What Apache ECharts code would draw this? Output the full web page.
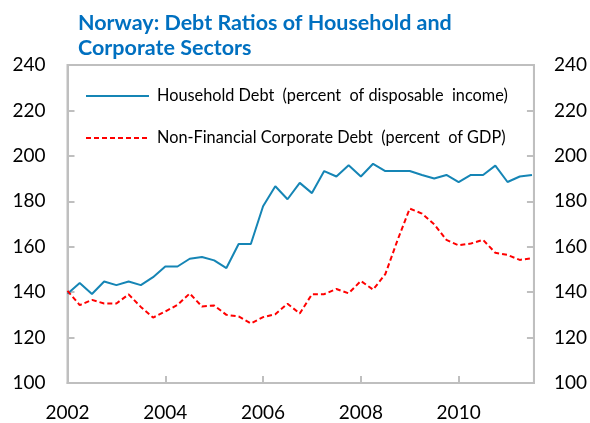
<!DOCTYPE html>
<html>
<head>
<meta charset="utf-8">
<script src="https://cdn.jsdelivr.net/npm/echarts@6/dist/echarts.min.js"></script>
<style>
  html, body { margin: 0; padding: 0; background: #fff; }
  #main { width: 590px; height: 423px; }
</style>
</head>
<body>
<div id="main"></div>
<script>
// 季度数据，2002Q1 起
let startYear = 2002;
let household = [
  139.3, 144.0, 139.2, 144.7, 143.1, 144.7, 143.1, 146.6, 151.3, 151.3,
  154.7, 155.5, 154.0, 150.6, 161.2, 161.2, 177.8, 186.6, 180.9, 188.1,
  183.6, 193.3, 190.9, 195.9, 190.9, 196.5, 193.3, 193.3, 193.3, 191.6,
  190.0, 191.6, 188.4, 191.6, 191.6, 195.7, 188.5, 190.9, 191.6
];
let corporate = [
  140.6, 134.3, 136.6, 135.0, 135.0, 139.0, 133.5, 128.8, 131.5, 134.4,
  139.4, 133.7, 134.1, 130.0, 129.3, 126.2, 129.0, 130.3, 134.9, 130.6,
  139.1, 139.1, 141.4, 139.5, 144.9, 141.1, 147.9, 162.9, 176.8, 174.6,
  169.9, 163.0, 160.6, 161.4, 163.0, 157.3, 156.4, 154.2, 154.9
];
let yTicks = { min: 100, max: 240, interval: 20 };

let toPairs = arr => arr.map((v, i) => [startYear + i / 4, v]);

let fontName = 'Lato';
let axisColor = '#BFBFBF';

let yAxisCfg = (pos) => ({
  type: 'value',
  position: pos,
  min: yTicks.min,
  max: yTicks.max,
  interval: yTicks.interval,
  axisLine: { show: true, lineStyle: { color: axisColor, width: 2 } },
  axisTick: { show: true, inside: true, length: 7, lineStyle: { color: axisColor, width: 2 } },
  axisLabel: { color: '#000', fontFamily: fontName, fontSize: 19, margin: pos === 'left' ? 22 : 20 },
  splitLine: { show: false }
});

let chart = echarts.init(document.getElementById('main'));
let option = {
  animation: false,
  backgroundColor: '#fff',
  title: {
    text: 'Norway: Debt Ratios of Household and\nCorporate Sectors',
    left: 73,
    top: 6,
    textStyle: { color: '#0070C0', fontFamily: fontName, fontWeight: 'bold', fontSize: 21.5, lineHeight: 25 }
  },
  grid: { left: 67.5, right: 55, top: 65, bottom: 40, show: true, borderColor: axisColor, borderWidth: 2 },
  legend: {
    orient: 'vertical',
    left: 80,
    top: 83,
    itemWidth: 63,
    itemHeight: 14,
    itemGap: 26,
    itemStyle: { opacity: 0 },
    textStyle: { color: '#000', fontFamily: fontName, fontSize: 16.3, padding: [0, 0, 0, 3] },
    data: ['Household Debt  (percent  of disposable  income)', 'Non-Financial Corporate Debt  (percent  of GDP)']
  },
  xAxis: {
    type: 'value',
    min: 2002,
    max: 2011.54,
    interval: 2,
    axisLine: { show: true, lineStyle: { color: axisColor, width: 2 } },
    axisTick: { show: true, inside: true, length: 7, lineStyle: { color: axisColor, width: 2 } },
    axisLabel: { color: '#000', fontFamily: fontName, fontSize: 19, margin: 20, showMaxLabel: false,
      formatter: v => String(v) },
    splitLine: { show: false }
  },
  yAxis: [yAxisCfg('left'), yAxisCfg('right')],
  series: [
    {
      name: 'Household Debt  (percent  of disposable  income)',
      type: 'line',
      symbol: 'none',
      data: toPairs(household),
      lineStyle: { color: '#1585B5', width: 2 },
      itemStyle: { color: '#1585B5' }
    },
    {
      name: 'Non-Financial Corporate Debt  (percent  of GDP)',
      type: 'line',
      symbol: 'none',
      data: toPairs(corporate),
      lineStyle: { color: '#FF0000', width: 2, type: [5, 3] },
      itemStyle: { color: '#FF0000' }
    }
  ]
};
chart.setOption(option);
</script>
</body>
</html>
